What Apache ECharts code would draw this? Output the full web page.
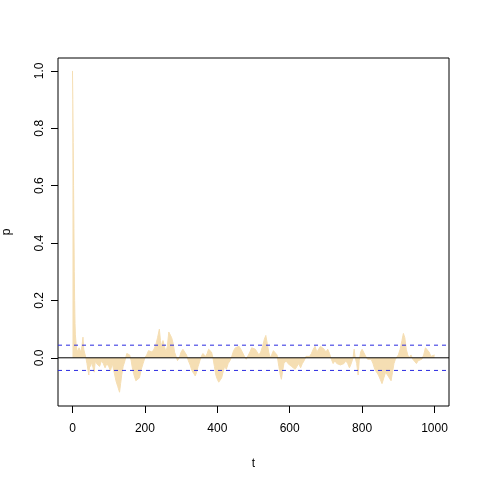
<!DOCTYPE html>
<html><head><meta charset="utf-8">
<script src="https://cdn.jsdelivr.net/npm/echarts@6/dist/echarts.min.js"></script>
<style>html,body{margin:0;padding:0;background:#fff}#c{width:480px;height:480px}</style>
</head><body><div id="c"></div>
<script>
var lags = [0,1,2,3,4,5,6,7,8,10,12,15,18,20,23,26,29,31,34,37,40,45,48,50,53,56,60,63,66,70,75,80,85,90,95,100,105,110,115,120,125,130,133,136,140,145,150,155,158,162,166,170,175,180,185,190,195,200,205,210,215,220,225,230,235,240,243,246,250,255,258,262,266,270,274,278,282,286,290,295,300,305,310,315,320,325,330,335,339,343,347,352,356,360,364,368,372,376,380,384,388,392,396,400,404,408,412,416,420,425,430,435,440,445,450,455,460,465,470,475,480,485,490,495,500,505,510,515,520,525,530,534,538,542,546,550,555,560,565,570,574,577,580,584,590,595,600,605,610,615,620,625,630,635,640,645,650,655,660,665,670,675,680,685,690,695,700,705,710,715,720,725,730,735,740,745,750,755,760,765,770,775,778,781,785,789,792,796,800,805,810,815,820,825,830,835,840,845,850,855,860,865,870,875,880,884,888,892,896,900,905,910,914,918,922,926,930,935,940,945,950,955,960,965,970,975,980,985,990,995,1000];
var acf = [1.0,0.9,0.75,0.6,0.45,0.3,0.2,0.12,0.08,0.05,0.03,0.02,0.035,0.03,0.02,0.04,0.072,0.03,0.035,0.0,-0.02,-0.06,-0.02,-0.03,-0.015,-0.02,-0.05,-0.01,-0.02,-0.015,-0.03,-0.01,-0.02,-0.035,-0.02,-0.03,-0.045,-0.02,-0.05,-0.08,-0.1,-0.12,-0.09,-0.06,-0.03,-0.01,0.015,0.02,0.01,-0.01,-0.04,-0.06,-0.08,-0.085,-0.07,-0.04,-0.02,0.0,0.01,0.025,0.03,0.02,0.03,0.045,0.07,0.1,0.06,0.04,0.06,0.035,0.02,0.04,0.09,0.085,0.07,0.05,0.02,0.005,-0.01,0.0,0.02,0.03,0.025,0.01,-0.01,-0.025,-0.045,-0.055,-0.063,-0.05,-0.03,-0.01,0.005,0.015,0.02,0.005,0.015,0.03,0.035,0.02,0.0,-0.03,-0.06,-0.075,-0.085,-0.09,-0.07,-0.05,-0.03,-0.04,-0.02,-0.01,0.005,0.025,0.035,0.03,0.04,0.03,0.025,0.005,-0.005,0.0,0.02,0.035,0.04,0.03,0.02,0.01,0.02,0.04,0.065,0.078,0.05,0.02,0.0,0.01,0.025,0.03,0.01,-0.03,-0.06,-0.075,-0.05,-0.02,-0.01,-0.02,-0.015,-0.03,-0.025,-0.04,-0.03,-0.02,-0.035,-0.02,-0.01,0.005,0.01,0.005,0.015,0.03,0.04,0.02,0.025,0.04,0.045,0.03,0.02,0.03,0.015,-0.005,-0.02,-0.01,-0.02,-0.015,-0.025,-0.03,-0.02,-0.01,-0.02,-0.035,-0.02,0.0,0.03,0.0,-0.02,-0.06,-0.01,0.02,0.03,0.025,0.005,-0.005,0.0,-0.005,-0.02,-0.04,-0.05,-0.06,-0.075,-0.09,-0.07,-0.05,-0.06,-0.07,-0.08,-0.05,-0.02,-0.005,0.0,0.01,0.03,0.06,0.085,0.07,0.03,0.01,0.0,0.01,-0.005,-0.01,-0.02,-0.01,-0.015,-0.005,0.01,0.035,0.04,0.02,0.005,0.01,0.01];
var xTicks = [0,200,400,600,800,1000];
var yTicks = [0,0.2,0.4,0.6,0.8,1.0];
var ciBound = 0.044;
var xRange = [-40, 1040];
var yRange = [-0.168, 1.045];

var chart = echarts.init(document.getElementById('c'));
var font = 'Liberation Sans, Arial, Helvetica, sans-serif';
var data = lags.map(function(t,i){return [t, acf[i]];});
function hline(v, color, type, z){
  return {type:'line',data:[[xRange[0],v],[xRange[1],v]],symbol:'none',z:z,silent:true,
    lineStyle:{color:color,type:type,width:1},itemStyle:{color:color}};
}
chart.setOption({
  animation:false,
  textStyle:{fontFamily:font},
  grid:{left:58,right:31,top:58,bottom:74,containLabel:false,outerBoundsMode:'none',show:true,borderColor:'#000',borderWidth:1,backgroundColor:'transparent'},
  xAxis:{type:'value',min:xRange[0],max:xRange[1],
    name:'t',nameLocation:'middle',nameGap:52,nameTextStyle:{color:'#000',fontSize:12,fontFamily:font},
    axisLine:{show:false,onZero:false},splitLine:{show:false},
    axisTick:{show:true,inside:false,length:7,lineStyle:{color:'#000'},customValues:xTicks},
    axisLabel:{color:'#000',fontSize:12,fontFamily:font,margin:17,customValues:xTicks,formatter:function(v){return String(v);}}},
  yAxis:{type:'value',min:yRange[0],max:yRange[1],
    name:'p',nameLocation:'middle',nameGap:45,nameTextStyle:{color:'#000',fontSize:12,fontFamily:font},
    axisLine:{show:false,onZero:false},splitLine:{show:false},
    axisTick:{show:true,inside:false,length:7,lineStyle:{color:'#000'},customValues:yTicks},
    axisLabel:{color:'#000',fontSize:12,fontFamily:font,margin:12,rotate:90,customValues:yTicks,formatter:function(v){return v.toFixed(1);}}},
  series:[{
    type:'line',data:data,symbol:'none',z:2,
    lineStyle:{width:1,color:'#F5DEB3'},
    areaStyle:{color:'#F5DEB3',opacity:1,origin:0}
  },
  hline(0,'#000','solid',3),
  hline(ciBound,'#2a2ae0',[4,4],4),
  hline(-ciBound,'#2a2ae0',[4,4],4)
  ]
});
</script></body></html>
